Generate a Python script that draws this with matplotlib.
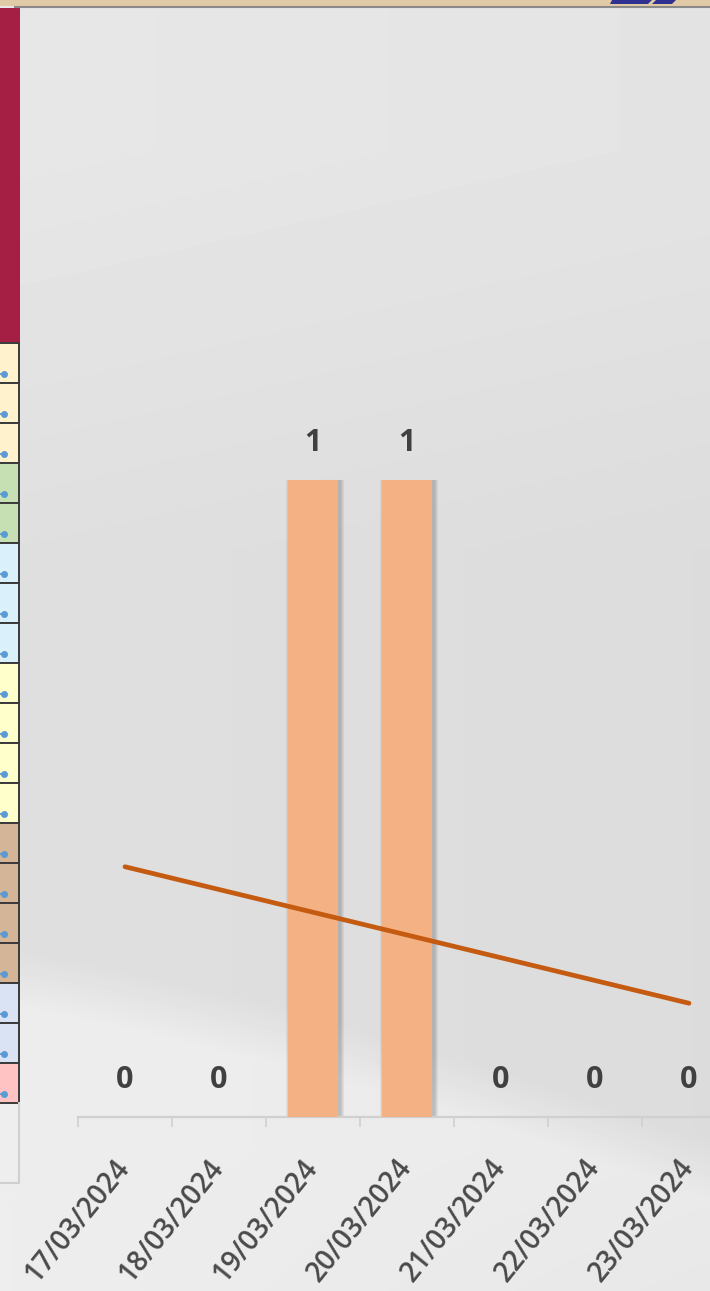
import matplotlib
matplotlib.use('Agg')
import matplotlib.pyplot as plt
import numpy as np
from matplotlib.patches import Rectangle, Polygon

dates = ['17/03/2024', '18/03/2024', '19/03/2024', '20/03/2024',
         '21/03/2024', '22/03/2024', '23/03/2024']
counts = [0, 0, 1, 1, 0, 0, 0]

# colours of the spreadsheet cells peeking in on the left
side_colors = (['#fff2cc'] * 3 + ['#c6e0b4'] * 2 + ['#daf0fb'] * 3 +
               ['#ffffcc'] * 4 + ['#d5b597'] * 4 + ['#dae3f3'] * 2 +
               ['#ffc3c3'])

W, H = 710, 1291
plt.rcParams['font.family'] = ['Open Sans', 'DejaVu Sans']
fig = plt.figure(figsize=(W / 100, H / 100), dpi=100)

# background layer in pixel coordinates
bg = fig.add_axes([0, 0, 1, 1])
bg.set_xlim(0, W)
bg.set_ylim(H, 0)
bg.axis('off')

yy, xx = np.mgrid[0:H, 0:W].astype(float)
img = 0.905 - 0.030 * np.clip((yy - 150) / 400, 0, 1) - 0.012 * (xx / W)
curve = 950 + 190 * (xx / W) ** 1.3
img += 0.055 * np.clip((yy - curve) / 60, 0, 1) - 0.01 * np.clip((yy - 1150) / 140, 0, 1) * (xx / W)
img = np.clip(img, 0, 1)
bg.imshow(img, cmap='gray', vmin=0, vmax=1, extent=(0, W, H, 0),
          aspect='auto', interpolation='bilinear')

# top strip
bg.add_patch(Rectangle((0, 0), W, 6, fc='#e0c9a5', ec='none'))
bg.plot([15, W], [6.5, 6.5], color='#8a8a8a', lw=1.5)
bg.add_patch(Polygon([(612, 0), (652, 0), (648, 4), (610, 4)], fc='#2e3192'))
bg.add_patch(Polygon([(656, 0), (676, 0), (672, 4), (652, 4)], fc='#2e3192'))

# sidebar
bg.add_patch(Rectangle((0, 8), 20, 334, fc='#a51f44', ec='none'))
for i, c in enumerate(side_colors):
    y0 = 343 + 40 * i
    bg.add_patch(Rectangle((-2, y0), 21, 40, fc=c, ec='#3a3a3a', lw=1.4))
    bg.plot([0, 4], [y0 + 31, y0 + 31], color='#5b9bd5', lw=1.3)
    bg.plot([4], [y0 + 31], 'o', color='#5b9bd5', ms=4)
bg.plot([19, 19, -2], [1103, 1183, 1183], color='#cfcfcf', lw=1.5)

# chart
ax = fig.add_axes([78 / W, 1 - 1117 / H, 658 / W, 1097 / H])
ax.patch.set_alpha(0)
x = np.arange(len(dates))
ax.set_xlim(-0.5, len(dates) - 0.5)
ax.set_ylim(0, 1097 / 637)

# soft shadow behind the bars
for k in range(4):
    ax.bar(x + 0.02, counts, width=0.53 + 0.02 * (k + 1), color='black',
           alpha=0.05, zorder=2)
ax.bar(x, counts, width=0.53, color='#f4b183', zorder=3)

coef = np.polyfit(x, counts, 1)
ax.plot([x[0], x[-1]], np.polyval(coef, [x[0], x[-1]]), color='#c55a11',
        lw=3.4, solid_capstyle='round', zorder=4)

for xi, v in zip(x, counts):
    ax.annotate(str(v), (xi, v), xytext=(0, 26.5), textcoords='offset points',
                ha='center', va='center', fontsize=22, fontweight='bold',
                color='#404040')
    ax.annotate(dates[xi], (xi, 0), xytext=(4, -36), textcoords='offset points',
                ha='right', va='baseline', rotation=51, rotation_mode='anchor',
                fontsize=20, fontweight='semibold', color='#4a4a4a',
                annotation_clip=False)

for s in ['top', 'right', 'left']:
    ax.spines[s].set_visible(False)
ax.spines['bottom'].set_color('#d0d0d0')
ax.spines['bottom'].set_linewidth(1.6)
ax.set_yticks([])
ax.set_xticks(np.arange(-0.5, len(dates), 1))
ax.set_xticklabels([])
ax.tick_params(axis='x', length=7, width=1.2, color='#d0d0d0')

plt.savefig('out.png', dpi=100)
